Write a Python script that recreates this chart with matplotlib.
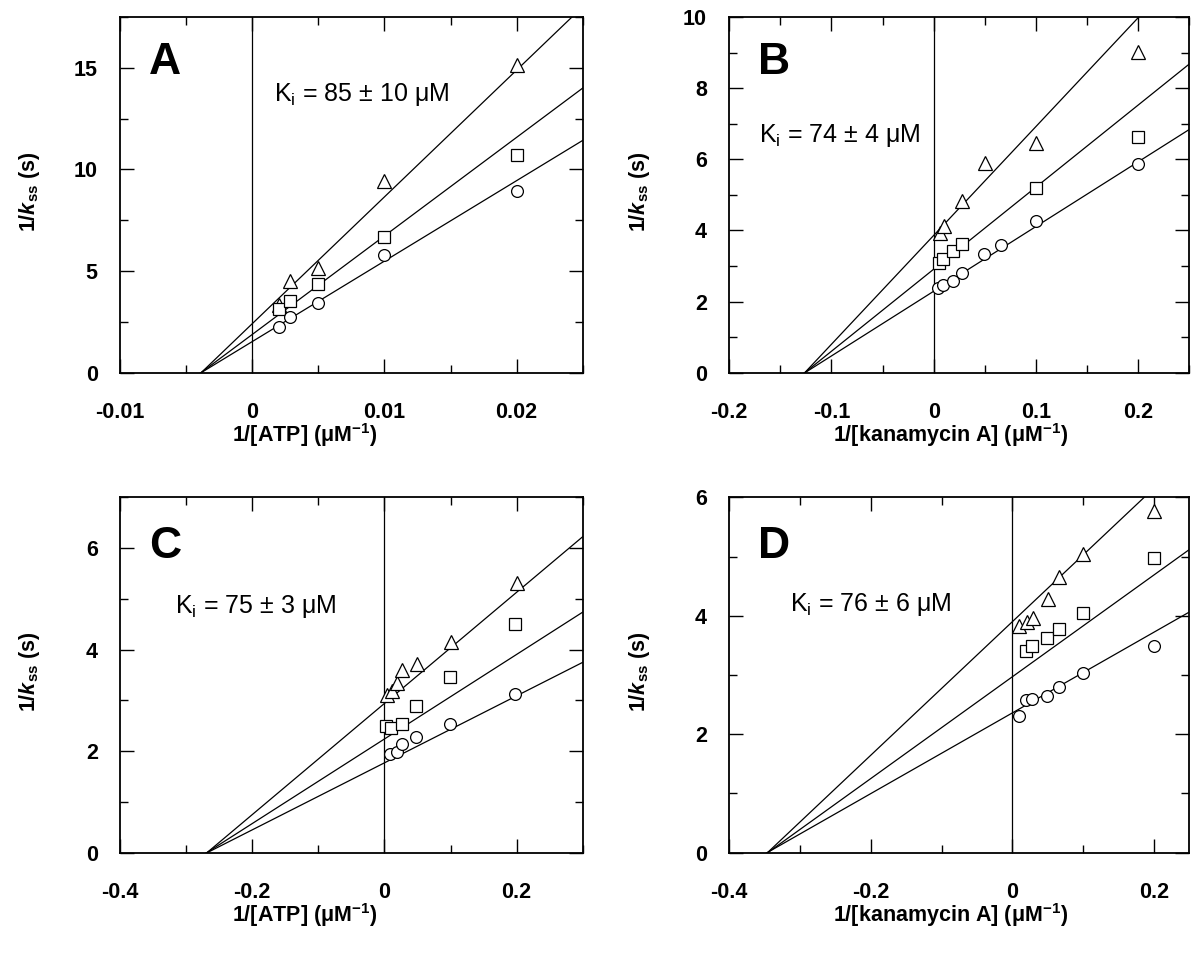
import matplotlib
matplotlib.use("Agg")
import matplotlib.pyplot as plt
from matplotlib.ticker import MultipleLocator, FuncFormatter

plt.rcParams["font.family"] = ["Liberation Sans", "DejaVu Sans"]
plt.rcParams["axes.unicode_minus"] = False
plt.rcParams["mathtext.fontset"] = "custom"
plt.rcParams["mathtext.it"] = "Liberation Sans:italic:bold"
plt.rcParams["mathtext.rm"] = "Liberation Sans"

# ---- panel A: 1/[ATP] ----
a_tri_x = [0.002, 0.00283, 0.005, 0.01, 0.02]
a_tri_y = [3.34, 4.52, 5.17, 9.41, 15.16]
a_sq_x = [0.002, 0.00283, 0.005, 0.01, 0.02]
a_sq_y = [3.12, 3.53, 4.35, 6.70, 10.73]
a_ci_x = [0.002, 0.00283, 0.005, 0.01, 0.02]
a_ci_y = [2.27, 2.73, 3.42, 5.77, 8.95]
a_slopes = [624, 485, 396]
a_intercepts = [2.41, 1.88, 1.53]

# ---- panel B: 1/[kanamycin A] ----
b_tri_x = [0.006, 0.010, 0.028, 0.050, 0.100, 0.200]
b_tri_y = [3.92, 4.13, 4.83, 5.90, 6.45, 9.03]
b_sq_x = [0.0055, 0.009, 0.019, 0.028, 0.100, 0.200]
b_sq_y = [3.09, 3.19, 3.42, 3.61, 5.20, 6.64]
b_ci_x = [0.004, 0.009, 0.019, 0.028, 0.049, 0.066, 0.100, 0.200]
b_ci_y = [2.39, 2.47, 2.58, 2.79, 3.34, 3.59, 4.27, 5.86]
b_slopes = [30.6, 23.07, 18.19]
b_intercepts = [3.86, 2.91, 2.29]

# ---- panel C: 1/[ATP] ----
c_tri_x = [0.0035, 0.011, 0.0187, 0.027, 0.049, 0.100, 0.200]
c_tri_y = [3.11, 3.19, 3.35, 3.60, 3.71, 4.15, 5.32]
c_sq_x = [0.0025, 0.0096, 0.026, 0.048, 0.099, 0.198]
c_sq_y = [2.50, 2.46, 2.53, 2.89, 3.46, 4.51]
c_ci_x = [0.009, 0.0187, 0.027, 0.048, 0.099, 0.198]
c_ci_y = [1.94, 1.99, 2.14, 2.27, 2.53, 3.13]
c_slopes = [10.95, 8.33, 6.60]
c_intercepts = [2.94, 2.24, 1.77]

# ---- panel D: 1/[kanamycin A] ----
d_tri_x = [0.0094, 0.021, 0.029, 0.050, 0.066, 0.0996, 0.200]
d_tri_y = [3.82, 3.90, 3.96, 4.29, 4.66, 5.04, 5.77]
d_sq_x = [0.0197, 0.0277, 0.049, 0.066, 0.100, 0.200]
d_sq_y = [3.41, 3.49, 3.63, 3.77, 4.04, 4.98]
d_ci_x = [0.0094, 0.020, 0.028, 0.049, 0.066, 0.100, 0.200]
d_ci_y = [2.31, 2.57, 2.59, 2.64, 2.80, 3.04, 3.49]
d_slopes = [11.27, 8.59, 6.81]
d_intercepts = [3.90, 2.97, 2.36]

panels = [
    dict(letter="A", ki="85 ± 10", xlabel="1/[ATP] (μM$\\mathregular{^{-1}}$)",
         xlim=(-0.01, 0.025), ylim=(0, 17.5), xmajor=0.01, xminor=0.005,
         ymajor=5, yminor=2.5,
         series=[(a_tri_x, a_tri_y), (a_sq_x, a_sq_y), (a_ci_x, a_ci_y)],
         slopes=a_slopes, intercepts=a_intercepts,
         rect=[0.1007, 0.6122, 0.3882, 0.3701], ki_pos=(0.333, 0.781),
         letter_y=0.93, xlabel_x=0.40),
    dict(letter="B", ki="74 ± 4", xlabel="1/[kanamycin A] (μM$\\mathregular{^{-1}}$)",
         xlim=(-0.2, 0.25), ylim=(0, 10), xmajor=0.1, xminor=0.05,
         ymajor=2, yminor=1,
         series=[(b_tri_x, b_tri_y), (b_sq_x, b_sq_y), (b_ci_x, b_ci_y)],
         slopes=b_slopes, intercepts=b_intercepts,
         rect=[0.6118, 0.6122, 0.3859, 0.3701], ki_pos=(0.065, 0.668),
         letter_y=0.93, xlabel_x=0.48),
    dict(letter="C", ki="75 ± 3", xlabel="1/[ATP] (μM$\\mathregular{^{-1}}$)",
         xlim=(-0.4, 0.3), ylim=(0, 7), xmajor=0.2, xminor=0.1,
         ymajor=2, yminor=1,
         series=[(c_tri_x, c_tri_y), (c_sq_x, c_sq_y), (c_ci_x, c_ci_y)],
         slopes=c_slopes, intercepts=c_intercepts,
         rect=[0.1007, 0.1127, 0.3882, 0.3698], ki_pos=(0.119, 0.692),
         letter_y=0.92, xlabel_x=0.40),
    dict(letter="D", ki="76 ± 6", xlabel="1/[kanamycin A] (μM$\\mathregular{^{-1}}$)",
         xlim=(-0.4, 0.25), ylim=(0, 6), xmajor=0.2, xminor=0.1,
         ymajor=2, yminor=1,
         series=[(d_tri_x, d_tri_y), (d_sq_x, d_sq_y), (d_ci_x, d_ci_y)],
         slopes=d_slopes, intercepts=d_intercepts,
         rect=[0.6118, 0.1127, 0.3859, 0.3698], ki_pos=(0.133, 0.697),
         letter_y=0.92, xlabel_x=0.48),
]

markers = [("^", 9.5), ("s", 8), ("o", 8.5)]
fmt = FuncFormatter(lambda v, pos: f"{v:.10g}" if abs(v) > 1e-12 else "0")

fig = plt.figure(figsize=(11.92, 9.61), dpi=100)
for p in panels:
    ax = fig.add_axes(p["rect"])
    x0, x1 = p["xlim"]
    for m, b in zip(p["slopes"], p["intercepts"]):
        ax.plot([x0, x1], [b + m * x0, b + m * x1], color="black", lw=0.9, zorder=2)
    for (xs, ys), (mk, ms) in zip(p["series"], markers):
        ax.plot(xs, ys, ls="none", marker=mk, ms=ms, mfc="white", mec="black",
                mew=0.9, zorder=3)
    ax.axvline(0, color="black", lw=0.9, zorder=1)
    ax.set_xlim(p["xlim"])
    ax.set_ylim(p["ylim"])
    ax.xaxis.set_major_locator(MultipleLocator(p["xmajor"]))
    ax.xaxis.set_minor_locator(MultipleLocator(p["xminor"]))
    ax.yaxis.set_major_locator(MultipleLocator(p["ymajor"]))
    ax.yaxis.set_minor_locator(MultipleLocator(p["yminor"]))
    ax.xaxis.set_major_formatter(fmt)
    ax.yaxis.set_major_formatter(fmt)
    ax.tick_params(which="both", direction="in", top=True, right=True, width=1.0)
    ax.tick_params(which="major", length=10)
    ax.tick_params(which="minor", length=6)
    ax.tick_params(axis="x", which="major", pad=21)
    ax.tick_params(axis="y", which="major", pad=16)
    for lab in ax.get_xticklabels() + ax.get_yticklabels():
        lab.set_fontweight("bold")
        lab.set_fontsize(15.5)
    for sp in ax.spines.values():
        sp.set_linewidth(1.3)
    ax.set_xlabel(p["xlabel"], fontsize=15.5, fontweight="bold")
    ax.xaxis.set_label_coords(p["xlabel_x"], -0.135)
    ax.set_ylabel("1/$k$$\\mathregular{_{ss}}$ (s)", fontsize=15.5, fontweight="bold")
    ax.yaxis.set_label_coords(-0.168, 0.51)
    ax.text(0.063, p["letter_y"], p["letter"], transform=ax.transAxes,
            fontsize=32, fontweight="bold", ha="left", va="top")
    ax.text(p["ki_pos"][0], p["ki_pos"][1],
            "K$\\mathregular{_i}$ = " + p["ki"] + " μM", transform=ax.transAxes,
            fontsize=18, ha="left", va="center")

fig.savefig("out.png", dpi=100)
